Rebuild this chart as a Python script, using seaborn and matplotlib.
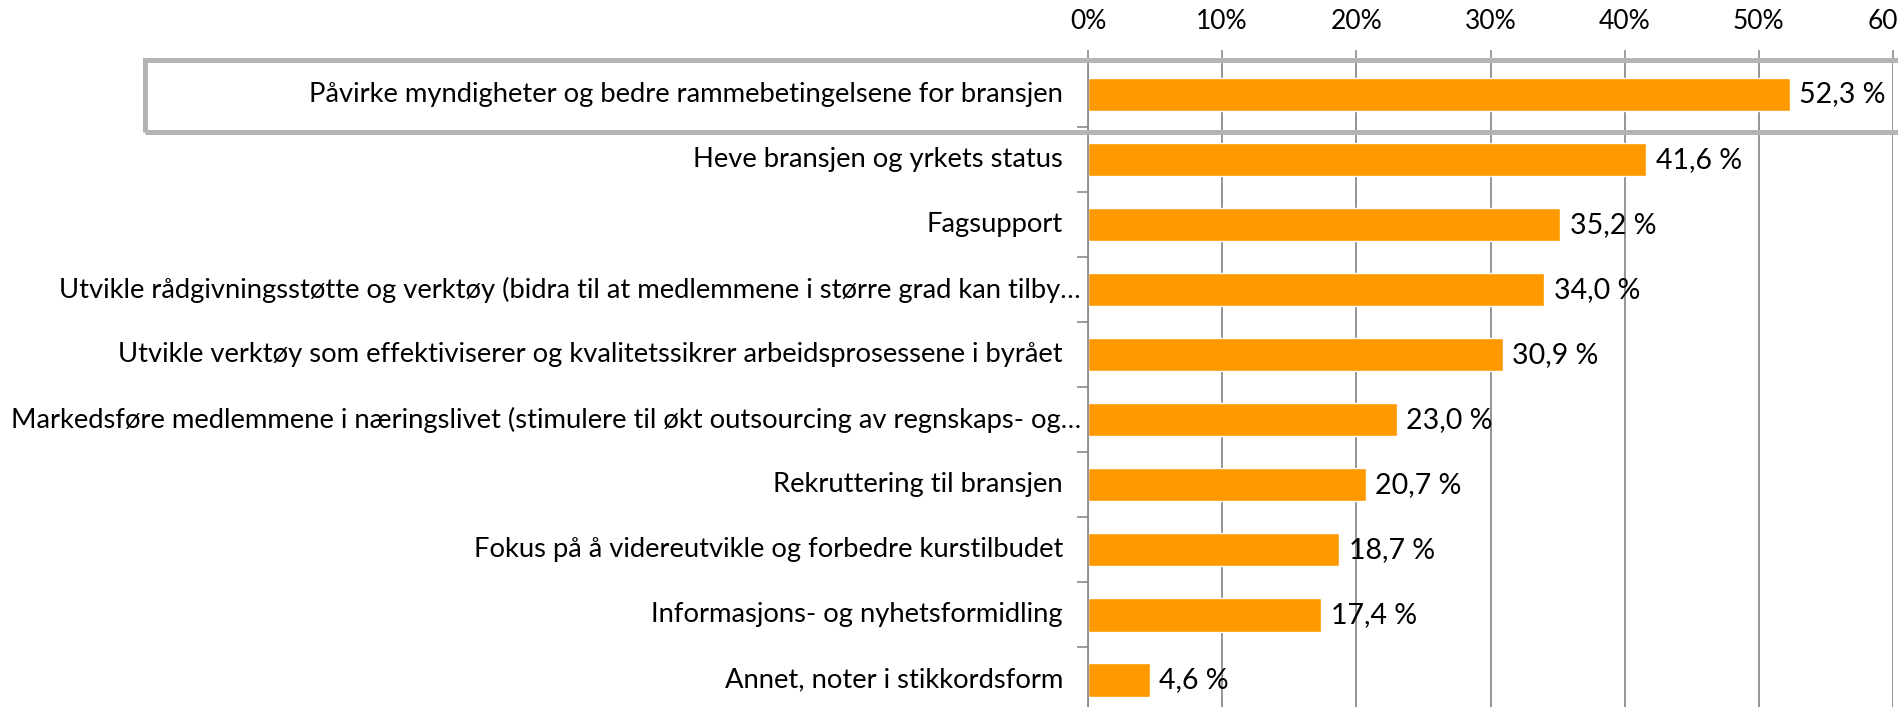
import matplotlib
matplotlib.use("Agg")
import matplotlib.pyplot as plt
import matplotlib.patches as mpatches
from matplotlib.transforms import ScaledTranslation
import pandas as pd
import seaborn as sns

categories = [
    "Påvirke myndigheter og bedre rammebetingelsene for bransjen",
    "Heve bransjen og yrkets status",
    "Fagsupport",
    "Utvikle rådgivningsstøtte og verktøy (bidra til at medlemmene i større grad kan tilby…",
    "Utvikle verktøy som effektiviserer og kvalitetssikrer arbeidsprosessene i byrået",
    "Markedsføre medlemmene i næringslivet (stimulere til økt outsourcing av regnskaps- og…",
    "Rekruttering til bransjen",
    "Fokus på å videreutvikle og forbedre kurstilbudet",
    "Informasjons- og nyhetsformidling",
    "Annet, noter i stikkordsform",
]
shares = [52.3, 41.6, 35.2, 34.0, 30.9, 23.0, 20.7, 18.7, 17.4, 4.6]
x_ticks = [0, 10, 20, 30, 40, 50, 60]

BAR = "#FF9900"
GRID = "#8C8C8C"
FONT = ["Lato", "DejaVu Sans"]
FS = 19.7

sns.set_theme(style="white")
plt.rcParams["font.family"] = FONT

df = pd.DataFrame({"Kategori": categories, "Andel": shares})

W, H = 1898, 707
fig = plt.figure(figsize=(W / 100, H / 100), dpi=100)
ax = fig.add_axes([1088 / W, (H - 712.5) / H, (1893 - 1088) / W, (712.5 - 62) / H])

sns.barplot(data=df, x="Andel", y="Kategori", color=BAR, saturation=1,
            width=0.51, ax=ax)

ax.set_xlim(0, 60)
ax.set_ylim(len(categories) - 0.5, -0.5)
ax.set_xticks(x_ticks)
ax.set_xticklabels([f"{t}%" for t in x_ticks])
ax.xaxis.tick_top()
ax.tick_params(axis="x", which="major", direction="out", length=9, width=1.2,
               color=GRID, pad=11, labelsize=19, labelcolor="black")
ax.grid(axis="x", color=GRID, linewidth=1.3)
ax.set_axisbelow(True)
ax.set_xlabel("")
ax.set_ylabel("")

# category labels drawn as text so truncated ones can sit a bit closer
ax.set_yticks(range(len(categories)))
ax.set_yticklabels([])
ax.tick_params(axis="y", which="major", length=0)
ax.set_yticks([i + 0.5 for i in range(len(categories) - 1)], minor=True)
ax.tick_params(axis="y", which="minor", direction="out", length=8, width=1.2,
               color=GRID, left=True)
for i, name in enumerate(categories):
    gap = 0.07 if name.endswith("…") else 0.25
    tr = ax.get_yaxis_transform() + ScaledTranslation(-gap, 0, fig.dpi_scale_trans)
    ax.text(0, i, name, transform=tr, ha="right", va="center",
            fontsize=FS, color="black")

for side in ["right", "bottom"]:
    ax.spines[side].set_visible(False)
ax.spines["left"].set_color(GRID)
ax.spines["left"].set_linewidth(1.3)
ax.spines["top"].set_color(GRID)
ax.spines["top"].set_linewidth(1.3)

ax.bar_label(ax.containers[0], labels=[f"{v:.1f} %".replace(".", ",") for v in shares],
             padding=7, fontsize=20.5, color="black")

# highlight box around the first row
box = mpatches.Rectangle((145 / W, (H - 131.5) / H), (W + 20 - 145) / W, 71 / H,
                         transform=fig.transFigure, fill=False,
                         edgecolor="#B4B4B4", linewidth=3.6, clip_on=False)
fig.patches.append(box)

fig.savefig("out.png", dpi=100)
